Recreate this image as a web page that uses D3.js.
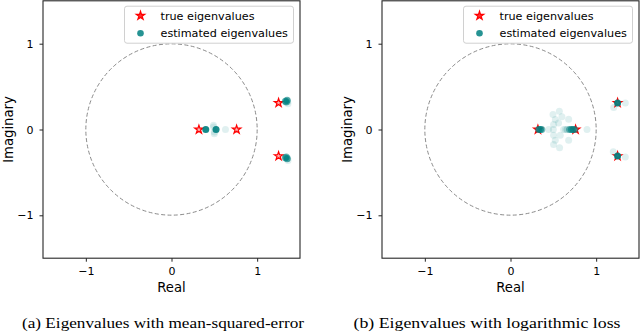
<!DOCTYPE html>
<html>
<head>
<meta charset="utf-8">
<script src="https://cdn.jsdelivr.net/npm/d3@7"></script>
<style>
  body { margin: 0; background: #fff; }
  svg { display: block; }
</style>
</head>
<body>
<div id="chart"></div>
<script>
// true eigenvalues (same system in both panels)
const trueRe = [0.32, 0.76, 1.25, 1.25]
const trueIm = [0, 0, 0.31, -0.31]

// estimated eigenvalues, panel (a) mean-squared-error
// runs = how many training runs landed on that spot
const estReA = [0.40, 0.52, 0.49, 0.50, 0.49, 0.50, 0.63,
                1.33, 1.35, 1.34, 1.355, 1.36,
                1.33, 1.35, 1.34, 1.355, 1.36]
const estImA = [0, 0, 0.03, -0.03, 0.05, -0.05, 0,
                0.33, 0.34, 0.32, 0.325, 0.30,
                -0.33, -0.34, -0.32, -0.335, -0.36]
const runsA  = [20, 18, 1, 1, 1, 1, 1,
                8, 8, 6, 2, 1,
                8, 8, 6, 2, 1]

// estimated eigenvalues, panel (b) logarithmic loss
const estReB = [0.33, 0.35, 0.365, 0.69, 0.71, 0.73, 0.75, 0.66, 0.62,
                1.25, 1.25,
                0.496, 0.57, 0.523, 0.679, 0.503, 0.561, 0.445, 0.64, 0.893,
                0.503, 0.581, 0.523, 0.679, 0.503, 0.573,
                1.205, 1.34, 1.20, 1.34, 0.50, 0.60]
const estImB = [0, 0, 0, 0, 0, 0, 0, 0, 0,
                0.31, -0.31,
                0.175, 0.213, 0.117, 0.12, 0.058, 0.077, 0, 0, 0,
                -0.066, -0.066, -0.125, -0.125, -0.175, -0.214,
                0.256, 0.31, -0.26, -0.32, 0, 0.15]
const runsB  = [10, 10, 6, 6, 8, 10, 6, 2, 1,
                20, 20,
                1, 1, 1, 1, 1, 1, 1, 1, 1,
                1, 1, 1, 1, 1, 1,
                1, 1, 1, 1, 1, 1]

const ticks = [-1, 0, 1]
const legendLabels = ["true eigenvalues", "estimated eigenvalues"]
const captions = ["(a) Eigenvalues with mean-squared-error",
                  "(b) Eigenvalues with logarithmic loss"]

const width = 640,
      height = 333

const teal = "#008080"
const sans = "'DejaVu Sans', sans-serif"

let svg = d3.select("#chart")
    .append("svg")
    .attr("width", width)
    .attr("height", height)
    .attr("viewBox", [0, 0, width, height])

const fmt = d => d < 0 ? "\u2212" + Math.abs(d) : String(d)
const alpha = n => 1 - Math.pow(1 - 0.12, n)

function panel(xRange, re, im, runs, caption) {
    const top = 0.8, bottom = 258.2

    let x = d3.scaleLinear().domain([-1.5, 1.5]).range(xRange)
    let y = d3.scaleLinear().domain([-1.5, 1.5]).range([bottom, top])

    let g = svg.append("g")

    // unit circle
    g.append("circle")
        .attr("cx", x(0))
        .attr("cy", y(0))
        .attr("r", x(1) - x(0))
        .attr("fill", "none")
        .attr("stroke", "#8a8a8a")
        .attr("stroke-width", 1)
        .attr("stroke-dasharray", "4,2.4")

    // true eigenvalues
    g.selectAll(".true")
        .data(trueRe.map((r, i) => ({ re: r, im: trueIm[i] })))
        .join("path")
        .attr("class", "true")
        .attr("d", d3.symbol(d3.symbolStar, 22))
        .attr("transform", d => `translate(${x(d.re)},${y(d.im)})`)
        .attr("fill", "#ffb0b0")
        .attr("stroke", "red")
        .attr("stroke-width", 1.2)

    // estimated eigenvalues
    g.selectAll(".est")
        .data(re.map((r, i) => ({ re: r, im: im[i], n: runs[i] })))
        .join("circle")
        .attr("class", "est")
        .attr("cx", d => x(d.re))
        .attr("cy", d => y(d.im))
        .attr("r", 3.5)
        .attr("fill", teal)
        .attr("fill-opacity", d => alpha(d.n))

    // axes
    g.append("g")
        .attr("transform", `translate(0,${bottom})`)
        .call(d3.axisBottom(x).tickValues(ticks).tickFormat(fmt).tickSize(3.5).tickPadding(5.2))
        .call(a => a.select(".domain").remove())
        .call(a => a.selectAll("text").style("font", `11px ${sans}`).attr("fill", "#000"))
        .call(a => a.selectAll("line").attr("stroke", "#222"))

    g.append("g")
        .attr("transform", `translate(${xRange[0]},0)`)
        .call(d3.axisLeft(y).tickValues(ticks).tickFormat(fmt).tickSize(3.5).tickPadding(6))
        .call(a => a.select(".domain").remove())
        .call(a => a.selectAll("text").style("font", `11px ${sans}`).attr("fill", "#000"))
        .call(a => a.selectAll("line").attr("stroke", "#222"))

    // legend
    const lx = xRange[1] - 175.5, ly = 6.2
    let leg = g.append("g").attr("transform", `translate(${lx},${ly})`)
    leg.append("rect")
        .attr("width", 169)
        .attr("height", 37)
        .attr("rx", 2.5)
        .attr("fill", "white")
        .attr("fill-opacity", 0.8)
        .attr("stroke", "#d0d0d0")
        .attr("stroke-width", 1)
    leg.append("path")
        .attr("d", d3.symbol(d3.symbolStar, 22))
        .attr("transform", "translate(16,9.5)")
        .attr("fill", "#ff3030")
        .attr("stroke", "red")
        .attr("stroke-width", 1.2)
    leg.append("circle")
        .attr("cx", 16)
        .attr("cy", 27)
        .attr("r", 3.3)
        .attr("fill", teal)
        .attr("fill-opacity", 0.85)
    leg.selectAll(".lt")
        .data(legendLabels)
        .join("text")
        .attr("class", "lt")
        .attr("x", 36)
        .attr("y", (d, i) => 9.5 + i * 17.5)
        .attr("dy", "0.35em")
        .style("font", `11.2px ${sans}`)
        .text(d => d)

    // frame
    g.append("rect")
        .attr("x", xRange[0])
        .attr("y", top)
        .attr("width", xRange[1] - xRange[0])
        .attr("height", bottom - top)
        .attr("fill", "none")
        .attr("stroke", "#262626")
        .attr("stroke-width", 1.1)

    // axis labels
    const cx = (xRange[0] + xRange[1]) / 2
    g.append("text")
        .attr("x", cx)
        .attr("y", 291.5)
        .attr("text-anchor", "middle")
        .style("font", `13.2px ${sans}`)
        .text("Real")

    g.append("text")
        .attr("transform", `translate(${xRange[0] - 30.3},${(top + bottom) / 2}) rotate(-90)`)
        .attr("text-anchor", "middle")
        .style("font", `13.2px ${sans}`)
        .text("Imaginary")

    // caption
    g.append("text")
        .attr("x", caption.cx)
        .attr("y", 328)
        .attr("text-anchor", "middle")
        .attr("textLength", caption.w)
        .attr("lengthAdjust", "spacingAndGlyphs")
        .style("font", "15.5px 'Liberation Serif', serif")
        .text(caption.text)
}

panel([43, 300], estReA, estImA, runsA, { text: captions[0], cx: 163, w: 282 })
panel([382, 639], estReB, estImB, runsB, { text: captions[1], cx: 487, w: 267 })
</script>
</body>
</html>
